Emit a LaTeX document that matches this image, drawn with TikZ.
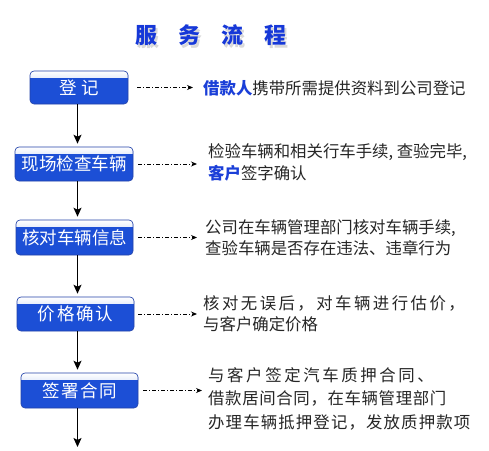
\documentclass[tikz,border=0pt]{standalone}
\usepackage{fontspec}
\setmainfont{Noto Sans CJK SC}
\usetikzlibrary{arrows.meta}

\definecolor{boxblue}{HTML}{1C4FD6}
\definecolor{boxedge}{HTML}{2443A8}
\definecolor{boxtop}{HTML}{8AA8EC}
\definecolor{keyblue}{HTML}{1B3FD8}
\definecolor{titleblue}{HTML}{1638D8}
\newcommand{\wide}[2]{{\addfontfeature{LetterSpace=#1}#2}}

\begin{document}
\begin{tikzpicture}[x=1pt, y=-1pt,
  stage/.style={draw=boxedge, line width=0.6pt, fill=boxblue, rounded corners=4pt,
    text=white, font=\fontsize{17.5}{17.5}\selectfont, inner sep=0pt,
    minimum width=117pt, minimum height=34pt,
    path picture={\fill[sharp corners, top color=white, bottom color=boxtop]
      (path picture bounding box.north west) rectangle ([yshift=-6pt]path picture bounding box.north east);}},
  note/.style={anchor=west, align=left, inner sep=0pt, text=black!85,
    font=\fontsize{16.4}{21.5}\selectfont},
  flow/.style={line width=1.3pt, -{Stealth[length=9pt, width=8pt, inset=2pt]}},
  link/.style={line width=0.9pt, dash pattern=on 4pt off 2pt on 1pt off 2pt,
    -{Stealth[length=6pt, width=5pt]}}]
  \fill[white] (0,0) rectangle (489,450);
  \useasboundingbox (0,0) rectangle (489,450);

  % title
  \node[text=gray!30, font=\fontsize{22}{22}\selectfont\bfseries] (titleshade) at (213,38)
    {服\hspace{21pt}务\hspace{21pt}流\hspace{21pt}程};
  \node[text=titleblue, font=\fontsize{22}{22}\selectfont\bfseries] (title) at (211,35)
    {服\hspace{21pt}务\hspace{21pt}流\hspace{21pt}程};

  % steps
  \node[stage, minimum width=98pt, minimum height=33pt] (reg) at (79,87.5) {\wide{28}{登记}};
  \node[stage, minimum width=118pt] (check) at (74,164) {现场检查车辆};
  \node[stage, minimum height=35pt] (verify) at (74.5,237.5) {核对车辆信息};
  \node[stage] (price) at (75.5,314) {\wide{11}{价格确认}};
  \node[stage, minimum height=35pt] (sign) at (79.5,390.5) {\wide{9}{签署合同}};

  % notes
  \node[note] (regnote) at (203,88)
    {\textcolor{keyblue}{\bfseries 借款人}携带所需提供资料到公司登记};
  \node[note] (checknote) at (208,162.5)
    {检验车辆和相关行车手续, 查验完毕,\\\textcolor{keyblue}{\bfseries 客户}签字确认};
  \node[note] (verifynote) at (205,237.5)
    {公司在车辆管理部门核对车辆手续,\\查验车辆是否存在违法、违章行为};
  \node[note] (pricenote) at (203,314)
    {\wide{15}{核对无误后，对车辆进行估价，}\\与客户确定价格};
  \node[note, font=\fontsize{16.4}{23.5}\selectfont] (signnote) at (208,398.5)
    {\wide{16}{与客户签定汽车质押合同、}\\\wide{4}{借款居间合同，在车辆管理部门}\\\wide{7}{办理车辆抵押登记，发放质押款项}};

  % main line
  \coordinate (spine) at (77.5,0);
  \coordinate (end) at (77.5,447);
  \draw[flow] (spine |- reg.south) -- ([yshift=3pt]spine |- check.north);
  \draw[flow] (spine |- check.south) -- ([yshift=3pt]spine |- verify.north);
  \draw[flow] (spine |- verify.south) -- ([yshift=3pt]spine |- price.north);
  \draw[flow] (spine |- price.south) -- ([yshift=3pt]spine |- sign.north);
  \draw[flow] (spine |- sign.south) -- (end);

  % links to notes
  \draw[link] ([xshift=9pt]reg.east) -- ([xshift=-10pt]reg.east -| regnote.west);
  \draw[link] ([xshift=5pt]check.east) -- ([xshift=-11pt]check.east -| checknote.west);
  \draw[link] ([xshift=5pt]verify.east) -- ([xshift=-8pt]verify.east -| verifynote.west);
  \draw[link] ([xshift=4pt]price.east) -- ([xshift=-6pt]price.east -| pricenote.west);
  \draw[link] ([xshift=5pt]sign.east) -- ([xshift=-6pt]sign.east -| signnote.west);
\end{tikzpicture}
\end{document}
